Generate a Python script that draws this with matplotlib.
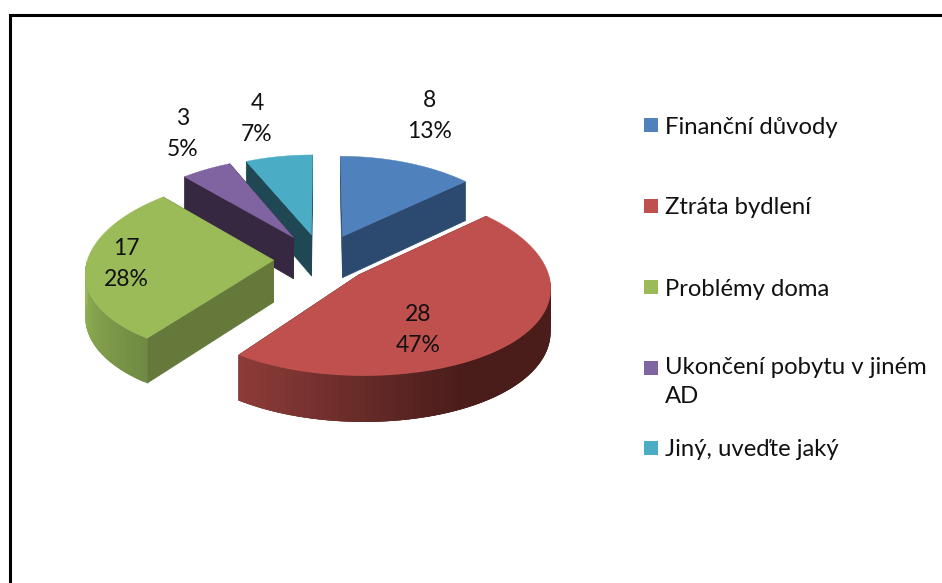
import numpy as np
import matplotlib
matplotlib.use("Agg")
import matplotlib.pyplot as plt
from matplotlib.colors import to_rgb
from matplotlib.patches import Rectangle

categories = ["Finanční důvody", "Ztráta bydlení", "Problémy doma", "Ukončení pobytu v jiném\nAD", "Jiný, uveďte jaký"]
values = [8, 28, 17, 3, 4]
colors = ["#4F81BD", "#C0504D", "#9BBB59", "#8064A2", "#4BACC6"]
face_colors = ["#2C4A70", "#5A2321", "#657A3A", "#372841", "#1F4854"]

plt.rcParams["font.family"] = ["Lato", "DejaVu Sans"]

# 3d look of the pie, in pixels of the picture
CX, CY = 322, 259
RX, RY = 186, 90
PERSP_X = 0.12
PERSP_Y = 0.08
DEPTH = 42
explode = [0.28, 0.26, 0.26, 0.29, 0.28]


def project(x, y, z=0):
    fx = 1 / (1 + PERSP_X * y)
    fy = 1 / (1 + PERSP_Y * y)
    return CX + x * RX * fx, CY - y * RY * fy + z * DEPTH * fy


def ring(off, a):
    return off[0] + np.sin(a), off[1] + np.cos(a)


def mix(c1, c2, t):
    c1, c2 = np.array(to_rgb(c1)), np.array(to_rgb(c2))
    return tuple(c1 + (c2 - c1) * t)


# rim colours going clockwise
rim_stops = {1: ("#4A1D1B", "#96403D"), 2: ("#6F8A42", "#9BBB59")}

fig, ax = plt.subplots(figsize=(9.42, 5.83), dpi=100)
ax.set_xlim(0, 942)
ax.set_ylim(583, 0)
ax.axis("off")
fig.subplots_adjust(0, 0, 1, 1)

# frame
ax.plot([942, 9.5, 9.5], [14.5, 14.5, 583], color="black", lw=2.2, solid_joinstyle="miter")

total = sum(values)
edges = np.radians(np.cumsum([0] + values) / total * 360)

for i in [4, 3, 0, 2, 1]:
    a0, a1 = edges[i], edges[i + 1]
    mid = (a0 + a1) / 2
    off = (explode[i] * np.sin(mid), explode[i] * np.cos(mid))
    arc = np.linspace(a0, a1, 80)
    ox, oy = ring(off, arc)

    # the two cut faces
    for a in (a0, a1):
        px, py = ring(off, a)
        xs, ys = zip(project(off[0], off[1]), project(px, py), project(px, py, 1), project(off[0], off[1], 1))
        ax.fill(xs, ys, color=face_colors[i], lw=0.5)

    # outer rim, only the part facing front
    front = np.linspace(max(a0, np.pi / 2), min(a1, 3 * np.pi / 2), 70)
    if front[-1] > front[0]:
        fx, fy = ring(off, front)
        c_right, c_left = rim_stops[i]
        sx = np.sin(front)
        n = len(front)
        for k in range(n - 1):
            e = min(k + 3, n - 1)
            if i == 1:
                t = np.clip(((1 - (sx[k] + 1) / 2) * 1.05 - 0.28) / 0.62, 0, 1)
            else:
                t = (front[k] - front[0]) / (front[-1] - front[0])
            xs, ys = zip(project(fx[k], fy[k]), project(fx[e], fy[e]),
                         project(fx[e], fy[e], 1), project(fx[k], fy[k], 1))
            ax.fill(xs, ys, color=mix(c_right, c_left, t), lw=0)

    # top of the slice
    tx, ty = project(np.r_[off[0], ox], np.r_[off[1], oy])
    ax.fill(tx, ty, color=colors[i], lw=0.3)

# value and percent labels
label_xy = [(430, 116), (418, 330), (126, 264), (183, 134), (257, 119)]
for v, (x, y) in zip(values, label_xy):
    ax.text(x, y, f"{v}\n{round(v / total * 100)}%", ha="center", va="center",
            fontsize=16.5, color="#111111", linespacing=1.55)

# legend
legend_y = [125, 206, 287, 368, 448]
for name, col, y in zip(categories, colors, legend_y):
    ax.add_patch(Rectangle((643.5, y - 7), 14.5, 14, facecolor=col, edgecolor="none"))
    if "\n" in name:
        ax.text(665, y - 11, name, ha="left", va="top", fontsize=17.2, color="#111111", linespacing=1.45)
    else:
        ax.text(665, y + 2, name, ha="left", va="center", fontsize=17.2, color="#111111")

fig.savefig("out.png", dpi=100)
